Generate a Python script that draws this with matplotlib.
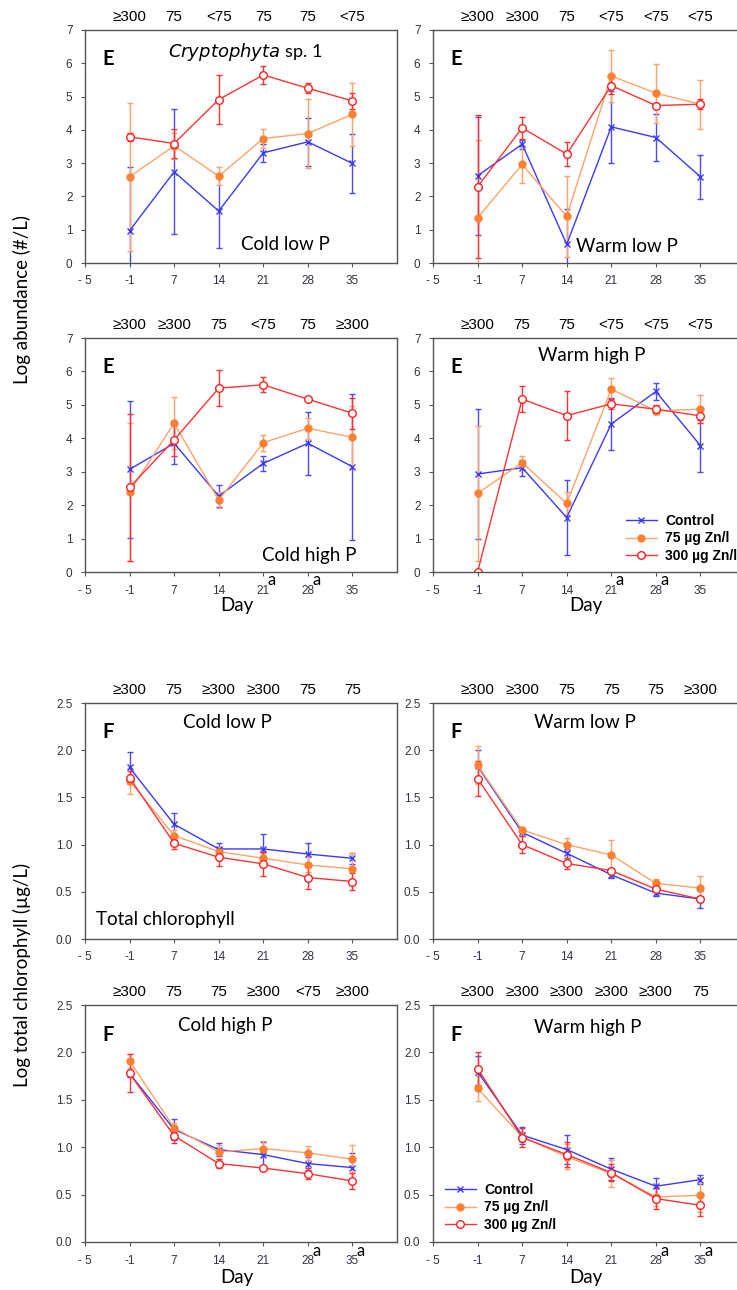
import numpy as np
import matplotlib
matplotlib.use("Agg")
import matplotlib.pyplot as plt
from matplotlib.lines import Line2D
from matplotlib.transforms import blended_transform_factory

# day labels; -5 only marks the left end of the axis
days = ["- 5", "-1", "7", "14", "21", "28", "35"]
pos = np.arange(1, 7)

# rows: control, 75 ug Zn/l, 300 ug Zn/l
e_cold_low = [[0.97, 2.74, 1.56, 3.31, 3.64, 2.99],
              [2.59, 3.52, 2.61, 3.74, 3.89, 4.47],
              [3.79, 3.59, 4.91, 5.65, 5.25, 4.87]]
e_cold_low_sd = [[1.92, 1.88, 1.10, 0.27, 0.72, 0.89],
                 [2.22, 0.40, 0.26, 0.30, 1.03, 0.95],
                 [0.11, 0.44, 0.73, 0.28, 0.15, 0.23]]
e_warm_low = [[2.62, 3.57, 0.56, 4.09, 3.77, 2.59],
              [1.36, 2.96, 1.40, 5.62, 5.10, 4.77],
              [2.29, 4.06, 3.27, 5.33, 4.73, 4.77]]
e_warm_low_sd = [[1.77, 0.14, 1.07, 1.09, 0.72, 0.66],
                 [2.35, 0.56, 1.22, 0.77, 0.88, 0.74],
                 [2.15, 0.34, 0.37, 0.25, 0.08, 0.15]]
e_cold_high = [[3.07, 3.85, 2.27, 3.25, 3.85, 3.15],
               [2.40, 4.45, 2.15, 3.87, 4.30, 4.03],
               [2.53, 3.95, 5.50, 5.60, 5.17, 4.75]]
e_cold_high_sd = [[2.04, 0.63, 0.33, 0.22, 0.94, 2.18],
                  [2.07, 0.78, 0.25, 0.24, 0.32, 0.93],
                  [2.20, 0.47, 0.54, 0.22, 0.03, 0.46]]
e_warm_high = [[2.93, 3.12, 1.63, 4.43, 5.40, 3.78],
               [2.35, 3.27, 2.05, 5.47, 4.82, 4.87],
               [0.00, 5.17, 4.68, 5.03, 4.87, 4.67]]
e_warm_high_sd = [[1.95, 0.24, 1.11, 0.78, 0.26, 0.78],
                  [2.03, 0.20, 0.33, 0.33, 0.08, 0.41],
                  [0.00, 0.38, 0.74, 0.15, 0.13, 0.22]]

f_cold_low = [[1.817, 1.215, 0.954, 0.954, 0.900, 0.855],
              [1.676, 1.095, 0.926, 0.855, 0.785, 0.743],
              [1.708, 1.014, 0.866, 0.796, 0.651, 0.609]]
f_cold_low_sd = [[0.16, 0.115, 0.065, 0.155, 0.115, 0.06],
                 [0.14, 0.06, 0.05, 0.06, 0.08, 0.17],
                 [0.07, 0.06, 0.09, 0.13, 0.12, 0.09]]
f_warm_low = [[1.83, 1.13, 0.908, 0.68, 0.486, 0.423],
              [1.84, 1.155, 1.00, 0.89, 0.59, 0.539],
              [1.70, 1.00, 0.80, 0.725, 0.528, 0.423]]
f_warm_low_sd = [[0.17, 0.04, 0.05, 0.035, 0.035, 0.09],
                 [0.20, 0.035, 0.07, 0.16, 0.05, 0.13],
                 [0.19, 0.09, 0.06, 0.02, 0.035, 0.02]]
f_cold_high = [[1.778, 1.187, 0.975, 0.922, 0.827, 0.785],
               [1.91, 1.204, 0.95, 0.986, 0.94, 0.873],
               [1.778, 1.12, 0.827, 0.78, 0.72, 0.644]]
f_cold_high_sd = [[0.04, 0.11, 0.07, 0.13, 0.07, 0.15],
                  [0.07, 0.05, 0.07, 0.08, 0.07, 0.15],
                  [0.20, 0.08, 0.045, 0.02, 0.06, 0.08]]
f_warm_high = [[1.796, 1.127, 0.975, 0.768, 0.588, 0.658],
               [1.62, 1.11, 0.90, 0.722, 0.475, 0.493],
               [1.83, 1.102, 0.922, 0.732, 0.458, 0.387]]
f_warm_high_sd = [[0.17, 0.09, 0.15, 0.115, 0.09, 0.05],
                  [0.13, 0.05, 0.13, 0.14, 0.10, 0.18],
                  [0.17, 0.10, 0.13, 0.09, 0.11, 0.11]]

# NOEC / threshold labels written above each sampling day
top_e_cold_low = ["≥300", "75", "<75", "75", "75", "<75"]
top_e_warm_low = ["≥300", "≥300", "75", "<75", "<75", "<75"]
top_e_cold_high = ["≥300", "≥300", "75", "<75", "75", "≥300"]
top_e_warm_high = ["≥300", "75", "75", "<75", "<75", "<75"]
top_f_cold_low = ["≥300", "75", "≥300", "≥300", "75", "75"]
top_f_warm_low = ["≥300", "≥300", "75", "75", "75", "≥300"]
top_f_cold_high = ["≥300", "75", "75", "≥300", "<75", "≥300"]
top_f_warm_high = ["≥300", "≥300", "≥300", "≥300", "≥300", "75"]

series_names = ["Control", "75 µg Zn/l", "300 µg Zn/l"]

TXT = ["Lato", "DejaVu Sans"]
ARIAL = ["Liberation Sans", "DejaVu Sans"]
TICKC = "#333340"

styles = [
    dict(color="#3a3aff", marker="x", mfc="#3a3aff", mec="#3a3aff", ms=5, mew=1.0, ecolor="#4a4aff"),
    dict(color="#ffa36a", marker="o", mfc="#ff8030", mec="#ff8030", ms=5, mew=1.0, ecolor="#ffa36a"),
    dict(color="#ff3333", marker="o", mfc="white", mec="#ff2020", ms=5.5, mew=1.0, ecolor="#ff3333"),
]

W, H = 737, 1290
fig = plt.figure(figsize=(W / 100, H / 100), dpi=100)


def add_panel(left, top, bottom, means, sds, tops, letter, ymax, yticks, ytl, a_days=()):
    ax = fig.add_axes([left / W, 1 - bottom / H, 312 / W, (bottom - top) / H])
    for m, s, st in zip(means, sds, styles):
        ax.errorbar(pos, m, yerr=s, lw=1.0, elinewidth=1.0, capsize=2.5, capthick=1.0, **st)
    ax.set_xlim(0, 7)
    ax.set_ylim(0, ymax)
    ax.set_xticks(range(7))
    ax.set_xticklabels(days)
    ax.set_yticks(yticks)
    ax.set_yticklabels(ytl)
    ax.tick_params(direction="out", length=3, width=0.8, color="#555555",
                   labelsize=8.5, labelcolor=TICKC, pad=6)
    for lab in ax.get_xticklabels() + ax.get_yticklabels():
        lab.set_family(ARIAL)
    for sp in ax.spines.values():
        sp.set_color("#555555")
        sp.set_linewidth(1.0)
    tr = blended_transform_factory(ax.transData, ax.transAxes)
    for p, t in zip(pos, tops):
        ax.text(p, 1.055, t, transform=tr, ha="center", va="center",
                fontsize=11, family=ARIAL, color="black")
    ax.text(0.055, 0.875, letter, transform=ax.transAxes, fontsize=14.5,
            fontweight="bold", family=TXT, ha="left", va="center")
    for d in a_days:
        ax.text(pos[d] + 0.19, -0.036, "a", transform=tr, fontsize=12,
                family=TXT, ha="center", va="center")
    return ax


e_ticks = range(8)
e_tl = [str(v) for v in range(8)]
f_ticks = [0, 0.5, 1.0, 1.5, 2.0, 2.5]
f_tl = ["0.0", "0.5", "1.0", "1.5", "2.0", "2.5"]

ax1 = add_panel(85, 30, 263, e_cold_low, e_cold_low_sd, top_e_cold_low, "E", 7, e_ticks, e_tl)
ax2 = add_panel(433, 30, 263, e_warm_low, e_warm_low_sd, top_e_warm_low, "E", 7, e_ticks, e_tl)
ax3 = add_panel(85, 338, 572, e_cold_high, e_cold_high_sd, top_e_cold_high, "E", 7, e_ticks, e_tl, (3, 4))
ax4 = add_panel(433, 338, 572, e_warm_high, e_warm_high_sd, top_e_warm_high, "E", 7, e_ticks, e_tl, (3, 4))
ax5 = add_panel(85, 703, 939, f_cold_low, f_cold_low_sd, top_f_cold_low, "F", 2.5, f_ticks, f_tl)
ax6 = add_panel(433, 703, 939, f_warm_low, f_warm_low_sd, top_f_warm_low, "F", 2.5, f_ticks, f_tl)
ax7 = add_panel(85, 1005, 1242, f_cold_high, f_cold_high_sd, top_f_cold_high, "F", 2.5, f_ticks, f_tl, (4, 5))
ax8 = add_panel(433, 1005, 1242, f_warm_high, f_warm_high_sd, top_f_warm_high, "F", 2.5, f_ticks, f_tl, (4, 5))


def fig_text(x, y, s, **kw):
    kw.setdefault("family", TXT)
    kw.setdefault("fontsize", 13.5)
    fig.text(x / W, 1 - y / H, s, ha="center", va="center", **kw)


# panel captions
fig_text(245, 52, r"$\it{Cryptophyta}$ sp. 1", fontsize=13)
fig_text(285, 245, "Cold low P")
fig_text(627, 247, "Warm low P")
fig_text(309, 555, "Cold high P")
fig_text(592, 355, "Warm high P")
fig_text(227, 723, "Cold low P")
fig_text(165, 920, "Total chlorophyll")
fig_text(585, 723, "Warm low P")
fig_text(225, 1025, "Cold high P")
fig_text(588, 1027, "Warm high P")

fig_text(237, 606, "Day")
fig_text(586, 606, "Day")
fig_text(237, 1278, "Day")
fig_text(586, 1278, "Day")
fig_text(22, 300, "Log abundance (#/L)", rotation=90)
fig_text(22, 975, "Log total chlorophyll (µg/L)", rotation=90)

handles = [Line2D([], [], color=st["color"], marker=st["marker"], mfc=st["mfc"],
                  mec=st["mec"], ms=st["ms"], mew=st["mew"], lw=1.0) for st in styles]
leg_kw = dict(frameon=False, handlelength=2.2, handletextpad=0.6, labelspacing=0.25,
              borderaxespad=0, borderpad=0,
              prop=dict(family=ARIAL, weight="bold", size=10))
ax4.legend(handles, series_names, loc="upper left",
           bbox_to_anchor=((626 - 433) / 312, (572 - 514) / 234), **leg_kw)
ax8.legend(handles, series_names, loc="upper left",
           bbox_to_anchor=((445 - 433) / 312, (1242 - 1183) / 237), **leg_kw)

fig.savefig("out.png", dpi=100)
